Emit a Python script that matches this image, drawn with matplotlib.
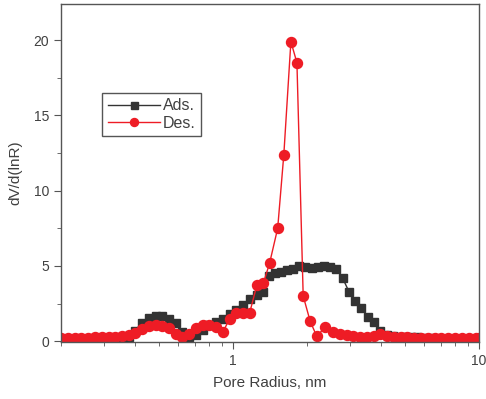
import numpy as np
import matplotlib.pyplot as plt
from matplotlib.ticker import MultipleLocator, LogLocator, NullFormatter, FixedLocator, FixedFormatter

plt.rcParams['font.family'] = ['Liberation Sans', 'DejaVu Sans']

# adsorption branch
ads_r = [0.20, 0.213, 0.227, 0.242, 0.258, 0.275, 0.293, 0.312, 0.332, 0.354,
         0.377, 0.401, 0.427, 0.455, 0.485, 0.516, 0.55, 0.585, 0.623, 0.664,
         0.707, 0.753, 0.80, 0.853, 0.91, 0.97, 1.03, 1.10, 1.17, 1.25,
         1.33, 1.40, 1.48, 1.57, 1.66, 1.76, 1.86, 1.97, 2.09, 2.21,
         2.34, 2.48, 2.63, 2.79, 2.96, 3.14, 3.33, 3.53, 3.74, 3.97,
         4.21, 4.46, 4.73, 5.0, 5.3, 5.6, 6.0, 6.4, 6.8, 7.3,
         7.8, 8.4, 9.0, 9.6]
ads_v = [0.05, 0.05, 0.05, 0.05, 0.05, 0.05, 0.06, 0.08, 0.1, 0.15,
         0.3, 0.7, 1.2, 1.55, 1.7, 1.65, 1.5, 1.2, 0.6, 0.25,
         0.4, 0.75, 1.1, 1.3, 1.5, 1.8, 2.1, 2.4, 2.8, 3.1,
         3.3, 4.3, 4.5, 4.6, 4.7, 4.8, 5.0, 4.95, 4.85, 4.9,
         5.0, 4.95, 4.8, 4.2, 3.3, 2.7, 2.2, 1.6, 1.3, 0.7,
         0.4, 0.35, 0.3, 0.3, 0.3, 0.25, 0.2, 0.2, 0.15, 0.15,
         0.1, 0.1, 0.1, 0.1]

# desorption branch
des_r = [0.20, 0.213, 0.227, 0.242, 0.258, 0.275, 0.293, 0.312, 0.332, 0.354,
         0.377, 0.401, 0.427, 0.455, 0.485, 0.516, 0.55, 0.585, 0.623, 0.664,
         0.707, 0.753, 0.80, 0.853, 0.91, 0.97, 1.03, 1.10, 1.17, 1.25,
         1.33, 1.41, 1.52, 1.61, 1.72, 1.82, 1.93, 2.06, 2.19, 2.37,
         2.55, 2.72, 2.9, 3.09, 3.29, 3.5, 3.73, 3.97, 4.23, 4.5,
         4.8, 5.1, 5.45, 5.8, 6.2, 6.6, 7.0, 7.5, 8.0, 8.5,
         9.1, 9.7, 10.0]
des_v = [0.2, 0.2, 0.2, 0.22, 0.22, 0.25, 0.25, 0.28, 0.3, 0.35,
         0.4, 0.55, 0.8, 1.0, 1.05, 1.0, 0.85, 0.5, 0.25, 0.5,
         0.85, 1.05, 1.05, 0.95, 0.6, 1.5, 1.9, 1.85, 1.9, 3.7,
         3.85, 5.2, 7.5, 12.4, 19.9, 18.5, 3.0, 1.33, 0.33, 0.93,
         0.6, 0.5, 0.4, 0.35, 0.3, 0.3, 0.35, 0.45, 0.35, 0.3,
         0.25, 0.25, 0.2, 0.2, 0.2, 0.2, 0.2, 0.2, 0.2, 0.2,
         0.2, 0.2, 0.2]

grey = '#555555'
fig = plt.figure(figsize=(4.86, 3.99), dpi=100)
ax = fig.add_axes([0.1255, 0.143, 0.86, 0.847])

ax.plot(ads_r, ads_v, color='#333333', marker='s', markersize=6.3, lw=1.0, label='Ads.')
ax.plot(des_r, des_v, color='#ee1c25', marker='o', markersize=7.2, lw=1.0, label='Des.')

ax.set_xscale('log')
ax.set_xlim(0.2, 10)
ax.set_ylim(-0.05, 22.4)
ax.xaxis.set_major_locator(FixedLocator([1, 10]))
ax.xaxis.set_major_formatter(FixedFormatter(['1', '10']))
ax.xaxis.set_minor_locator(LogLocator(base=10, subs=np.arange(2, 10)))
ax.xaxis.set_minor_formatter(NullFormatter())
ax.yaxis.set_major_locator(MultipleLocator(5))
ax.yaxis.set_minor_locator(MultipleLocator(2.5))

for s in ax.spines.values():
    s.set_color(grey)
    s.set_linewidth(1.0)
ax.tick_params(which='both', direction='out', color=grey, labelcolor='#404040', labelsize=10)
ax.tick_params(which='major', length=5)
ax.tick_params(which='minor', length=3)

ax.set_xlabel('Pore Radius, nm', fontsize=11, color='#404040', labelpad=6)
ax.set_ylabel('dV/d(lnR)', fontsize=11, color='#404040', labelpad=8)

leg = ax.legend(loc='upper left', bbox_to_anchor=(0.098, 0.737), fontsize=11.5,
                handlelength=3.3, handletextpad=0.15, borderpad=0.35, labelspacing=0.15,
                markerscale=0.8, fancybox=False, framealpha=1, edgecolor=grey,
                borderaxespad=0)
leg.get_frame().set_linewidth(1.0)
for t in leg.get_texts():
    t.set_color('#404040')

fig.savefig('out.png', dpi=100)
